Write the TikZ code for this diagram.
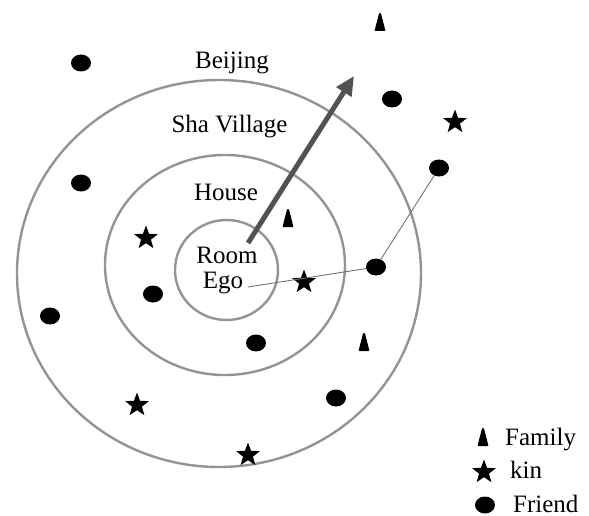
\documentclass[tikz,border=0pt]{standalone}
\usepackage{fontspec}
\setmainfont{Liberation Serif}
\usetikzlibrary{shapes.geometric,arrows.meta}
\tikzset{
  ring/.style={draw=black!42, line width=2.4pt},
  friend/.style={ellipse, fill=black, inner sep=0pt, minimum width=20pt, minimum height=17pt},
  kinstar/.style={star, star points=5, star point ratio=2.4, fill=black, inner sep=0pt, minimum size=25pt},
  family/.style={rectangle, inner sep=0pt, minimum width=11pt, minimum height=18pt,
    path picture={\fill[black, rounded corners=0.8pt] (path picture bounding box.south west) -- (path picture bounding box.south east) -- ([xshift=-4.6pt]path picture bounding box.north east) -- ([xshift=4.6pt]path picture bounding box.north west) -- cycle;}},
  lbl/.style={font=\fontsize{25}{28}\selectfont, inner sep=0pt, anchor=base},
  leg/.style={font=\fontsize{25}{28}\selectfont, inner sep=0pt, anchor=base west},
  link/.style={draw=black!55, line width=0.9pt},
  bigarrow/.style={draw=black!68, line width=5pt, -{Triangle[length=19pt,width=17pt]}}
}
\begin{document}
\begin{tikzpicture}[x=1pt,y=-1pt]
\useasboundingbox (0,0) rectangle (589,516);
% rings
\draw[ring] (219,273.5) ellipse [x radius=202, y radius=193.5];
\draw[ring] (225,265) ellipse [x radius=120, y radius=110];
\draw[ring] (226.5,270) ellipse [x radius=51.5, y radius=50];
% labels
\node[lbl] (beijing) at (232,69) {Beijing};
\node[lbl] (sha) at (229.5,132) {Sha Village};
\node[lbl] (house) at (226,200) {House};
\node[lbl] (room) at (227,263) {Room};
\node[lbl] (ego) at (223,288) {Ego};
% arrow
\coordinate (arrS) at (248,243);
\coordinate (arrE) at (354,76);
\draw[bigarrow] (arrS) -- (arrE);
% friends
\node[friend] (f1) at (81,63) {};
\node[friend] (f2) at (392,99) {};
\node[friend] (f3) at (439,168) {};
\node[friend] (f4) at (81,183) {};
\node[friend] (f5) at (376,267) {};
\node[friend] (f6) at (153,294) {};
\node[friend] (f7) at (50,316) {};
\node[friend] (f8) at (256,343) {};
\node[friend] (f9) at (336,398) {};
% kin
\node[kinstar] (k1) at (455,122) {};
\node[kinstar] (k2) at (146,238) {};
\node[kinstar] (k3) at (304,282) {};
\node[kinstar] (k4) at (137,405) {};
\node[kinstar] (k5) at (248,455) {};
% family
\node[family] (m1) at (380,22) {};
\node[family] (m2) at (288,218) {};
\node[family] (m3) at (364,342) {};
% links
\coordinate (egoline) at (248,287);
\draw[link] (egoline) -- (f5);
\draw[link] (f5) -- (f3);
% legend
\node[family] (lm) at (483,437) {};
\node[kinstar] (lk) at (484,472) {};
\node[friend] (lf) at (485,505) {};
\node[leg] (lmt) at (505,445) {Family};
\node[leg] (lkt) at (510,478) {kin};
\node[leg] (lft) at (513,512) {Friend};
\end{tikzpicture}
\end{document}
